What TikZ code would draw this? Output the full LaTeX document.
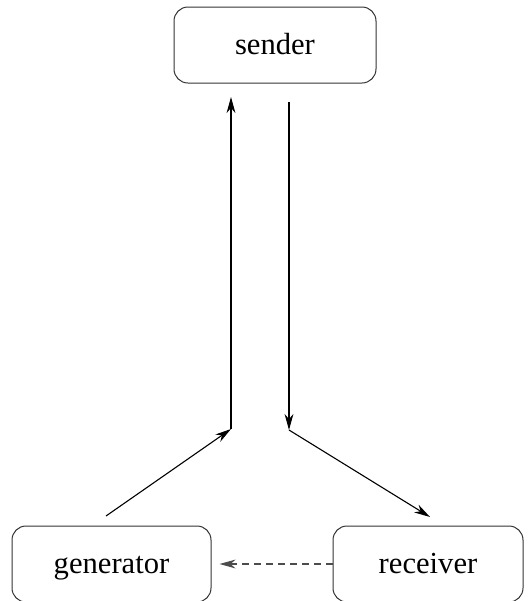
\documentclass[tikz,border=0pt]{standalone}
\usepackage{fontspec}
\setmainfont{Liberation Serif}
\usetikzlibrary{arrows.meta}

\begin{document}
\begin{tikzpicture}[x=0.5pt, y=-0.5pt, line width=0.55pt, >={Stealth[length=8pt, width=4.4pt, inset=2.5pt]}]
			\useasboundingbox (0,0) rectangle (529,601);
			\begin{scope}
			\tikzstyle{every node}=[align=center, draw=black!80, line width=0.5pt, rounded corners=7pt, inner sep=1pt, text height=12.5pt, text depth=3pt, font=\fontsize{15.3pt}{18pt}\selectfont]
				\node[minimum width=101pt, minimum height=38pt] (sender) at (275, 45) {sender};
				\node[minimum width=99.5pt, minimum height=38pt] (gen) at (111.5, 564) {generator};
				\node[minimum width=95pt, minimum height=38pt] (recv) at (428, 564) {receiver};
			\end{scope}
				\coordinate (genout) at (106, 516);
				\coordinate (upj) at (231, 429);
				\coordinate (uptop) at (231, 97);
				\coordinate (downtop) at (289, 102);
				\coordinate (downj) at (289, 430);
				\coordinate (recvin) at (430, 517);

				\draw[->]  (genout) to (upj);
				\draw[->]  (upj) to (uptop);
				\draw[->]  (downtop) to (downj);
				\draw[->]  (downj) to (recvin);
				\draw[->, dash pattern=on 3.5pt off 2.5pt, black!70]  (recv.west) to ([xshift=4pt]gen.east);
		\end{tikzpicture}
\end{document}
